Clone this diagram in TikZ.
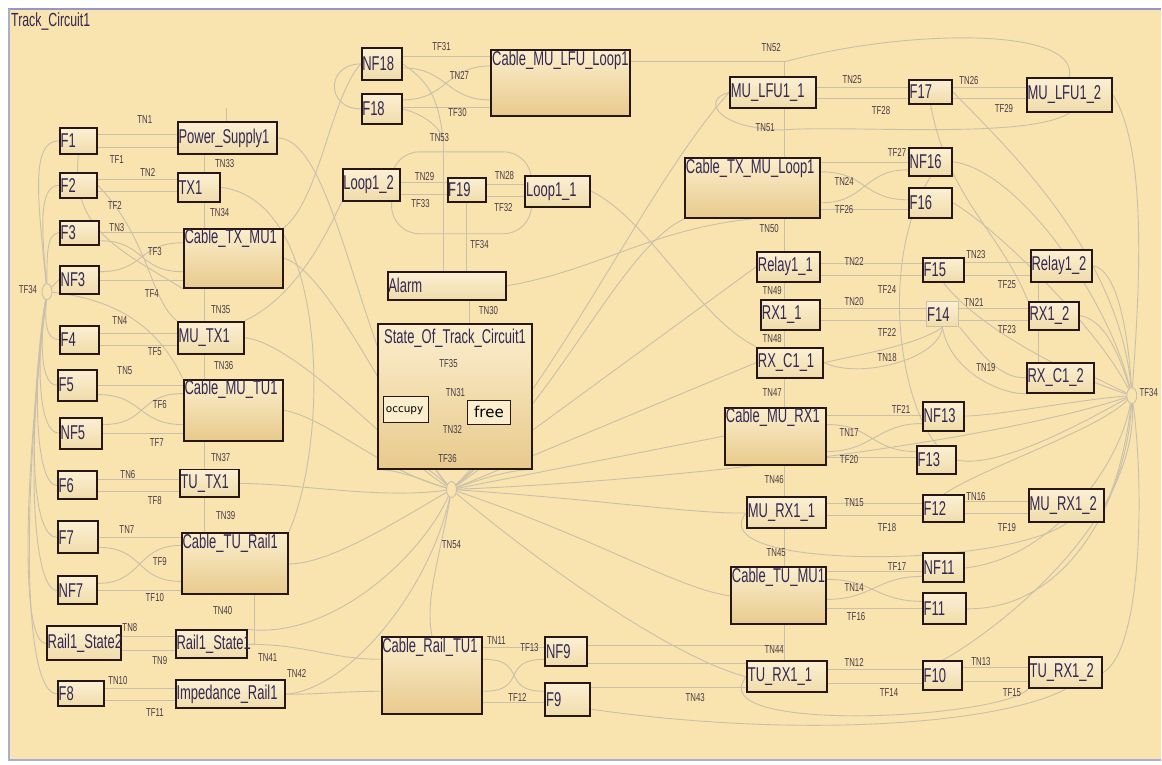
\documentclass[tikz,border=0pt]{standalone}
\usepackage{fontspec}
\setmainfont{Liberation Sans}
\newfontfamily\nar[FakeStretch=0.65]{Liberation Sans}
\newfontfamily\narl[FakeStretch=0.68]{Liberation Sans}
\newfontfamily\dvs{DejaVu Sans}
\usetikzlibrary{shapes.geometric}
\pgfdeclarelayer{bgl}
\pgfsetlayers{bgl,main}
\definecolor{bgc}{RGB}{249,227,174}
\definecolor{lnc}{RGB}{201,192,172}
\definecolor{bdc}{RGB}{38,22,22}
\definecolor{txc}{RGB}{50,40,82}
\definecolor{tlc}{RGB}{68,58,72}
\definecolor{frc}{RGB}{150,150,205}
\definecolor{fsc}{RGB}{170,175,200}
\definecolor{smtop}{RGB}{252,240,212}
\definecolor{smbot}{RGB}{240,220,170}
\definecolor{bgtop}{RGB}{251,238,205}
\definecolor{bgbot}{RGB}{232,202,140}
\tikzset{
 conn/.style={draw=lnc, line width=0.9pt},
 box/.style={rectangle, draw=bdc, line width=2pt, top color=smtop, bottom color=smbot, inner sep=0pt},
 bbox/.style={box, top color=bgtop, bottom color=bgbot},
 fbox/.style={box, draw=lnc, line width=1pt},
 btxt/.style={font=\nar\fontsize{20}{20}\selectfont, text=txc, inner sep=1.5pt},
 tlab/.style={font=\narl\fontsize{11.5}{11.5}\selectfont, text=tlc, inner sep=0pt},
 hubn/.style={ellipse, draw=lnc, line width=0.9pt, fill=bgc, minimum width=10pt, minimum height=16pt, inner sep=0pt},
}
\newcommand\sbx[7][box]{\node[#1, minimum width={(#5-#3)*1pt}, minimum height={(#6-#4)*1pt}] (#2) at ({(#3+#5)/2},{(#4+#6)/2}) {};
 \node[btxt, anchor=west] (#2t) at (#2.west) {#7};}
\newcommand\bbx[6]{\node[bbox, minimum width={(#4-#2)*1pt}, minimum height={(#5-#3)*1pt}] (#1) at ({(#2+#4)/2},{(#3+#5)/2}) {};
 \node[btxt, anchor=north west] (#1t) at (#1.north west) {#6};}
\newcommand\hy[3]{\coordinate (hyk) at (0,#3); \draw[conn] (#1.east |- hyk) -- (#2.west |- hyk);}
\newcommand\vx[3]{\coordinate (vxk) at (#3,0); \draw[conn] (#1.south -| vxk) -- (#2.north -| vxk);}
\newcommand\xc[4]{\coordinate (xa) at (0,#2); \coordinate (xb) at (0,#4); \draw[conn] (#1.east |- xa) .. controls +(45,0) and +(-45,0) .. (#3.west |- xb);}
\newcommand\tl[4]{\node[tlab] (#1) at (#2,#3) {#4};}
\begin{document}
\begin{tikzpicture}[x=1pt,y=-1pt]
\begin{pgfonlayer}{bgl}
\fill[white] (0,0) rectangle (1162,765);
\fill[bgc] (9,10) rectangle (1162,761);
\draw[frc, line width=2.5pt] (8,9) -- (1162,9);
\draw[fsc, line width=1.5pt] (9,9) -- (9,761) -- (1162,761);
\end{pgfonlayer}
\useasboundingbox (0,0) rectangle (1162,765);
\node[font=\nar\fontsize{19}{19}\selectfont, text=txc, anchor=north west, inner sep=0pt] (title) at (11,13) {Track\_Circuit1};

% ---------- left column
\sbx{F1}{60}{128}{97}{154}{F1}
\sbx{PS}{178}{122}{277}{154}{Power\_Supply1}
\sbx{F2}{60}{173}{97}{198}{F2}
\sbx{TXa}{178}{173}{220}{202}{TX1}
\sbx{F3}{60}{221}{99}{245}{F3}
\bbx{CTXMU}{184}{229}{283}{288}{Cable\_TX\_MU1}
\sbx{NF3}{60}{266}{99}{294}{NF3}
\sbx{F4}{60}{326}{99}{354}{F4}
\sbx{MUTX}{178}{322}{244}{354}{MU\_TX1}
\sbx{F5}{58}{370}{97}{401}{F5}
\bbx{CMUTU}{184}{380}{283}{441}{Cable\_MU\_TU1}
\sbx{NF5}{60}{418}{102}{449}{NF5}
\sbx{F6}{58}{472}{97}{500}{F6}
\sbx{TUTX}{180}{470}{239}{498}{TU\_TX1}
\sbx{F7}{58}{522}{98}{554}{F7}
\bbx{CTUR}{182}{534}{288}{595}{Cable\_TU\_Rail1}
\sbx{NF7}{58}{577}{97}{605}{NF7}
\sbx{RS2}{47}{627}{121}{661}{Rail1\_State2}
\sbx{RS1}{176}{631}{247}{659}{Rail1\_State1}
\sbx{F8}{58}{682}{104}{707}{F8}
\sbx{IMP}{176}{681}{285}{709}{Impedance\_Rail1}

% ---------- middle
\sbx{NF18}{362}{48}{402}{80}{NF18}
\sbx{F18}{362}{94}{402}{124}{F18}
\bbx{CMLL}{492}{50}{631}{116}{Cable\_MU\_LFU\_Loop1}
\sbx{L12}{343}{169}{400}{201}{Loop1\_2}
\sbx{F19}{448}{178}{487}{202}{F19}
\sbx{L11}{526}{176}{591}{207}{Loop1\_1}
\sbx{ALM}{388}{272}{507}{300}{Alarm}
\node[bbox, minimum width=155pt, minimum height=145pt] (ST) at (455.5,396.5) {};
\node[btxt, anchor=north] (STt) at ([yshift=-5pt]ST.north) {State\_Of\_Track\_Circuit1};
\node[box, top color=bgtop, bottom color=bgtop, line width=1.6pt, minimum width=45pt, minimum height=26pt] (OCC) at (406.5,410) {};
\node[font=\dvs\fontsize{10.5}{10.5}\selectfont, text=black, inner sep=0pt] (OCCt) at (405,411) {occupy};
\node[box, top color=bgtop, bottom color=bgtop, line width=1.6pt, minimum width=43pt, minimum height=24pt] (FREE) at (489.5,413) {};
\node[font=\dvs\fontsize{15}{15}\selectfont, text=black, inner sep=0pt] (FREEt) at (489.5,412) {free};
\bbx{CRT}{382}{638}{483}{715}{Cable\_Rail\_TU1}
\sbx{NF9}{546}{638}{588}{667}{NF9}
\sbx{F9}{546}{684}{591}{717}{F9}

% ---------- right
\sbx{MLa}{731}{77}{817}{108}{MU\_LFU1\_1}
\sbx{F17}{910}{80}{953}{104}{F17}
\sbx{MLb}{1028}{78}{1113}{112}{MU\_LFU1\_2}
\bbx{CTXML}{686}{158}{821}{218}{Cable\_TX\_MU\_Loop1}
\sbx{NF16}{910}{148}{953}{176}{NF16}
\sbx{F16}{910}{188}{953}{218}{F16}
\sbx{R11}{758}{252}{821}{282}{Relay1\_1}
\sbx{F15}{924}{258}{965}{282}{F15}
\sbx{R12}{1032}{250}{1093}{282}{Relay1\_2}
\sbx{RX11}{762}{300}{821}{330}{RX1\_1}
\sbx[fbox]{F14}{927}{302}{960}{327}{F14}
\sbx{RX12}{1030}{302}{1080}{330}{RX1\_2}
\sbx{RC11}{758}{348}{824}{378}{RX\_C1\_1}
\sbx{RC12}{1028}{363}{1095}{393}{RX\_C1\_2}
\bbx{CMRX}{726}{408}{827}{465}{Cable\_MU\_RX1}
\sbx{NF13}{924}{402}{965}{431}{NF13}
\sbx{F13}{918}{446}{957}{475}{F13}
\sbx{MRa}{748}{498}{827}{529}{MU\_RX1\_1}
\sbx{F12}{924}{496}{965}{523}{F12}
\sbx{MRb}{1030}{490}{1105}{523}{MU\_RX1\_2}
\bbx{CTUMU}{732}{568}{827}{625}{Cable\_TU\_MU1}
\sbx{NF11}{924}{554}{965}{583}{NF11}
\sbx{F11}{924}{594}{967}{625}{F11}
\sbx{TRa}{748}{662}{828}{693}{TU\_RX1\_1}
\sbx{F10}{924}{662}{963}{691}{F10}
\sbx{TRb}{1030}{658}{1103}{689}{TU\_RX1\_2}

% ---------- hubs
\node[hubn] (H34L) at (47,292) {};
\node[hubn] (H54) at (452,490) {};
\node[hubn] (H34R) at (1133,396) {};

% ---------- transition labels
\tl{lTN1}{145}{120}{TN1} \tl{lTF1}{117}{160}{TF1}
\tl{lTN2}{148}{173}{TN2} \tl{lTF2}{115}{206}{TF2}
\tl{lTN3}{117}{228}{TN3} \tl{lTF3}{155}{252}{TF3} \tl{lTF4}{152}{294}{TF4}
\tl{lTN33}{225}{164}{TN33} \tl{lTN34}{220}{213}{TN34} \tl{lTN35}{221}{310}{TN35}
\tl{lTN4}{120}{321}{TN4} \tl{lTF5}{155}{352}{TF5} \tl{lTN36}{224}{366}{TN36}
\tl{lTN5}{125}{371}{TN5} \tl{lTF6}{160}{405}{TF6} \tl{lTF7}{157}{443}{TF7}
\tl{lTN37}{221}{458}{TN37} \tl{lTN6}{128}{475}{TN6} \tl{lTF8}{155}{501}{TF8}
\tl{lTN39}{226}{516}{TN39} \tl{lTN7}{127}{530}{TN7} \tl{lTF9}{160}{562}{TF9}
\tl{lTF10}{155}{598}{TF10} \tl{lTN40}{223}{611}{TN40} \tl{lTN8}{130}{628}{TN8}
\tl{lTN9}{160}{661}{TN9} \tl{lTN41}{268}{658}{TN41} \tl{lTN42}{297}{674}{TN42}
\tl{lTN10}{118}{681}{TN10} \tl{lTF11}{155}{713}{TF11} \tl{lTF34a}{28}{290}{TF34}
\tl{lTF31}{442}{47}{TF31} \tl{lTN27}{460}{76}{TN27} \tl{lTF30}{458}{113}{TF30}
\tl{lTN53}{440}{138}{TN53} \tl{lTN29}{425}{177}{TN29} \tl{lTF33}{421}{204}{TF33}
\tl{lTN28}{505}{176}{TN28} \tl{lTF32}{504}{208}{TF32} \tl{lTF34b}{480}{245}{TF34}
\tl{lTN30}{489}{311}{TN30} \tl{lTF35}{449}{364}{TF35} \tl{lTN31}{456}{393}{TN31}
\tl{lTN32}{453}{430}{TN32} \tl{lTF36}{448}{459}{TF36} \tl{lTN54}{452}{545}{TN54}
\tl{lTN11}{497}{641}{TN11} \tl{lTF13}{530}{648}{TF13} \tl{lTF12}{518}{698}{TF12}
\tl{lTN43}{696}{698}{TN43}
\tl{lTN52}{772}{48}{TN52} \tl{lTN25}{853}{80}{TN25} \tl{lTF28}{882}{111}{TF28}
\tl{lTN26}{970}{81}{TN26} \tl{lTF29}{1005}{109}{TF29} \tl{lTN51}{766}{128}{TN51}
\tl{lTF27}{898}{153}{TF27} \tl{lTN24}{845}{182}{TN24} \tl{lTF26}{845}{210}{TF26}
\tl{lTN50}{770}{229}{TN50} \tl{lTN22}{855}{262}{TN22} \tl{lTF24}{888}{290}{TF24}
\tl{lTN23}{977}{255}{TN23} \tl{lTF25}{1008}{285}{TF25} \tl{lTN49}{773}{291}{TN49}
\tl{lTN20}{855}{302}{TN20} \tl{lTF22}{888}{333}{TF22} \tl{lTN21}{975}{303}{TN21}
\tl{lTF23}{1008}{330}{TF23} \tl{lTN48}{773}{339}{TN48} \tl{lTN18}{888}{358}{TN18}
\tl{lTN19}{987}{368}{TN19} \tl{lTN47}{773}{393}{TN47} \tl{lTF21}{902}{410}{TF21}
\tl{lTN17}{850}{433}{TN17} \tl{lTF20}{850}{460}{TF20} \tl{lTN46}{775}{480}{TN46}
\tl{lTF34c}{1150}{393}{TF34}
\tl{lTN15}{855}{503}{TN15} \tl{lTF18}{888}{528}{TF18} \tl{lTN16}{977}{497}{TN16}
\tl{lTF19}{1008}{528}{TF19} \tl{lTN45}{777}{553}{TN45} \tl{lTF17}{898}{567}{TF17}
\tl{lTN14}{855}{588}{TN14} \tl{lTF16}{857}{617}{TF16} \tl{lTN44}{775}{650}{TN44}
\tl{lTN12}{855}{663}{TN12} \tl{lTF14}{890}{693}{TF14} \tl{lTN13}{982}{662}{TN13}
\tl{lTF15}{1013}{693}{TF15}

% ---------- connectors
\begin{pgfonlayer}{bgl}
% left pairs
\hy{F1}{PS}{135} \hy{F1}{PS}{148}
\hy{F2}{TXa}{180} \hy{F2}{TXa}{192}
\hy{F3}{CTXMU}{233} \hy{NF3}{CTXMU}{281}
\xc{F3}{241}{CTXMU}{272} \xc{NF3}{272}{CTXMU}{243}
\hy{F4}{MUTX}{334} \hy{F4}{MUTX}{346}
\hy{F5}{CMUTU}{386} \hy{NF5}{CMUTU}{434}
\xc{F5}{395}{CMUTU}{425} \xc{NF5}{425}{CMUTU}{394}
\hy{F6}{TUTX}{480} \hy{F6}{TUTX}{492}
\hy{F7}{CTUR}{538} \hy{NF7}{CTUR}{591}
\xc{F7}{548}{CTUR}{582} \xc{NF7}{584}{CTUR}{546}
\hy{RS2}{RS1}{637} \hy{RS2}{RS1}{651}
\hy{F8}{IMP}{689} \hy{F8}{IMP}{701}
% left vertical chain
\coordinate (tn0) at (227,108);
\draw[conn] (tn0) -- (PS.north -| tn0);
\vx{PS}{TXa}{205} \vx{TXa}{CTXMU}{205} \vx{CTXMU}{MUTX}{205}
\vx{MUTX}{CMUTU}{205} \vx{CMUTU}{TUTX}{205} \vx{TUTX}{CTUR}{205}
\coordinate (c255) at (255,0);
\draw[conn] (CTUR.south -| c255) |- (RS1.east);
\coordinate (k660) at (0,660); \coordinate (k692) at (0,692);
\draw[conn] (RS1.east) .. controls +(60,0) and +(-50,0) .. (CRT.west |- k660);
\draw[conn] (IMP.east) .. controls +(40,0) and +(-40,0) .. (CRT.west |- k692);
% left hub
\draw[conn] (H34L) .. controls (38,200) and (30,141) .. (F1.west);
\draw[conn] (H34L) .. controls (42,230) and (38,186) .. (F2.west);
\draw[conn] (H34L) .. controls (47,260) and (46,233) .. (F3.west);
\draw[conn] (H34L) -- (NF3.west);
\draw[conn] (H34L) .. controls (45,320) and (45,340) .. (F4.west);
\draw[conn] (H34L) .. controls (40,340) and (40,386) .. (F5.west);
\draw[conn] (H34L) .. controls (36,360) and (38,434) .. (NF5.west);
\draw[conn] (H34L) .. controls (32,380) and (35,486) .. (F6.west);
\draw[conn] (H34L) .. controls (28,420) and (30,538) .. (F7.west);
\draw[conn] (H34L) .. controls (26,450) and (32,591) .. (NF7.west);
\draw[conn] (H34L) .. controls (22,500) and (22,644) .. (RS2.west);
\draw[conn] (H34L) .. controls (20,520) and (25,695) .. (F8.west);
\draw[conn] (H34L) .. controls (120,300) and (160,330) .. (CMUTU.north west);
\draw[conn] (F1.south) .. controls (70,230) and (120,250) .. (CTXMU.south west);
\draw[conn] (F2.east) .. controls (150,240) and (150,300) .. (MUTX.north west);
% middle top
\hy{NF18}{CMLL}{57} \hy{F18}{CMLL}{108}
\xc{NF18}{68}{CMLL}{100} \xc{F18}{100}{CMLL}{66}
\draw[conn] (NF18.west) .. controls +(-35,0) and +(-35,0) .. (F18.west);
\coordinate (tn53) at (444,142);
\draw[conn] (NF18.east) .. controls +(30,20) and +(-5,-40) .. (tn53);
\draw[conn] (F18.east) .. controls +(20,5) and +(-2,-15) .. (tn53);
\draw[conn] (tn53) -- (ALM.north -| tn53);
\draw[conn, rounded corners=28pt] (392,152) rectangle (532,234);
\hy{L12}{F19}{183} \hy{L12}{F19}{195}
\hy{F19}{L11}{185} \hy{F19}{L11}{197}
\vx{F19}{ALM}{467}
\vx{ALM}{ST}{470}
\draw[conn] (L12.south west) .. controls (320,250) and (290,300) .. (MUTX.north east);
\draw[conn] (NF18.west) .. controls (330,100) and (320,200) .. (CTXMU.north east);
% inside state
\hy{OCC}{FREE}{406} \hy{OCC}{FREE}{416}
\draw[conn] (450,412) ellipse [x radius=28pt, y radius=38pt];
\draw[conn] (OCC.south) .. controls +(0,40) and +(-25,-25) .. (H54);
\draw[conn] (FREE.south) .. controls +(0,40) and +(25,-25) .. (H54);
\draw[conn] (ST.south west) .. controls (400,470) and (420,480) .. (H54);
\draw[conn] (ST.south east) .. controls (510,470) and (480,480) .. (H54);
% middle bottom
\hy{CRT}{NF9}{648} \hy{CRT}{F9}{703}
\xc{CRT}{660}{F9}{692} \xc{CRT}{692}{NF9}{660}
\coordinate (k646) at (0,646); \coordinate (tn44) at (785,646);
\draw[conn] (NF9.east |- k646) -- (tn44);
\hy{NF9}{TRa}{664}
\hy{F9}{TRa}{688}
\coordinate (k710) at (0,710);
\draw[conn] (F9.east |- k710) .. controls (800,740) and (1000,725) .. (TRb.south);
% TN54 fan, left
\draw[conn] (H54) .. controls (360,380) and (340,140) .. (PS.east);
\draw[conn] (H54) .. controls (400,430) and (330,270) .. (CTXMU.east);
\draw[conn] (H54) .. controls (390,450) and (300,345) .. (MUTX.east);
\draw[conn] (H54) .. controls (380,470) and (330,420) .. (CMUTU.east);
\draw[conn] (H54) .. controls (380,500) and (300,484) .. (TUTX.east);
\draw[conn] (H54) .. controls (400,520) and (330,565) .. (CTUR.east);
\draw[conn] (H54) .. controls (420,560) and (330,640) .. (RS1.north east);
\draw[conn] (H54) .. controls (430,590) and (350,690) .. (IMP.east);
\draw[conn] (H54) .. controls (440,560) and (425,600) .. (CRT.north);
\draw[conn] (TXa.east) .. controls (330,200) and (330,440) .. (CTUR.north east);
% TN54 fan, right
\draw[conn] (H54) .. controls (560,380) and (650,180) .. (MLa.west);
\draw[conn] (H54) .. controls (560,400) and (620,250) .. (CTXML.south west);
\draw[conn] (H54) -- (R11.west);
\draw[conn] (H54) -- (RC11.west);
\draw[conn] (H54) -- (CMRX.west);
\draw[conn] (H54) .. controls (600,500) and (700,515) .. (MRa.west);
\draw[conn] (H54) .. controls (600,540) and (680,590) .. (CTUMU.west);
\draw[conn] (H54) .. controls (560,580) and (680,660) .. (TRa.west);
\draw[conn] (H54) .. controls (700,480) and (1000,440) .. (H34R);
\draw[conn] (L11.east) .. controls (650,220) and (700,320) .. (RC11.north west);
\draw[conn] (ALM.east) .. controls (600,270) and (650,230) .. (CTXML.south);
% right top
\coordinate (tn52) at (785,62);
\draw[conn] (CMLL.east |- tn52) -- (tn52) -- (MLa.north -| tn52);
\hy{MLa}{F17}{88} \hy{MLa}{F17}{99}
\hy{F17}{MLb}{88} \hy{F17}{MLb}{99}
\draw[conn] (tn52) .. controls (900,30) and (1080,25) .. (MLb.north);
\coordinate (tn51) at (785,130);
\draw[conn] (MLb.south) .. controls (1030,140) and (850,125) .. (tn51);
\draw[conn] (MLa.west) .. controls (700,100) and (720,130) .. (tn51);
% right column
\vx{MLa}{CTXML}{785} \vx{CTXML}{R11}{785} \vx{R11}{RX11}{785} \vx{RX11}{RC11}{785}
\vx{RC11}{CMRX}{785} \vx{CMRX}{MRa}{785} \vx{MRa}{CTUMU}{785} \vx{CTUMU}{TRa}{785}
\vx{R12}{RX12}{1040} \vx{RX12}{RC12}{1040}
\hy{CTXML}{NF16}{163} \hy{CTXML}{F16}{210}
\xc{CTXML}{172}{F16}{200} \xc{CTXML}{203}{NF16}{170}
\hy{R11}{F15}{264} \hy{R11}{F15}{276} \hy{F15}{R12}{263} \hy{F15}{R12}{276}
\hy{RX11}{F14}{309} \hy{RX11}{F14}{321} \hy{F14}{RX12}{309} \hy{F14}{RX12}{321}
\draw[conn] (RC11.east) .. controls (860,355) and (920,345) .. (F14.south);
\draw[conn] (RC11.east) .. controls (860,380) and (940,360) .. (F14.south);
\draw[conn] (F14.south east) .. controls (980,350) and (1000,380) .. (RC12.west);
\draw[conn] (F14.south) .. controls (950,370) and (1000,395) .. (RC12.south west);
\hy{CMRX}{NF13}{416} \hy{CMRX}{F13}{458}
\xc{CMRX}{425}{F13}{452} \xc{CMRX}{452}{NF13}{424}
\hy{MRa}{F12}{504} \hy{MRa}{F12}{516} \hy{F12}{MRb}{502} \hy{F12}{MRb}{514}
\draw[conn] (MRa.west) .. controls (700,570) and (1000,570) .. (MRb.south);
\hy{CTUMU}{NF11}{572} \hy{CTUMU}{F11}{609}
\xc{CTUMU}{580}{F11}{602} \xc{CTUMU}{600}{NF11}{577}
\hy{TRa}{F10}{670} \hy{TRa}{F10}{684} \hy{F10}{TRb}{668} \hy{F10}{TRb}{682}
\draw[conn] (TRa.west) .. controls (700,735) and (1000,720) .. (TRb.south west);
% right hub
\draw[conn] (MLb.east) .. controls (1150,150) and (1140,300) .. (H34R);
\draw[conn] (F17.east) .. controls (1000,140) and (1120,250) .. (H34R);
\draw[conn] (NF16.east) .. controls (1020,170) and (1110,300) .. (H34R);
\draw[conn] (F16.east) .. controls (1000,230) and (1100,330) .. (H34R);
\draw[conn] (F15.south) .. controls (980,330) and (1080,380) .. (H34R);
\draw[conn] (R12.east) .. controls (1120,270) and (1130,340) .. (H34R);
\draw[conn] (RX12.east) .. controls (1110,320) and (1125,370) .. (H34R);
\draw[conn] (RC12.east) -- (H34R);
\draw[conn] (NF13.east) .. controls (1000,416) and (1080,400) .. (H34R);
\draw[conn] (F13.east) .. controls (1000,470) and (1090,420) .. (H34R);
\draw[conn] (F12.north) .. controls (980,470) and (1100,430) .. (H34R);
\draw[conn] (MRb.east) .. controls (1120,480) and (1130,430) .. (H34R);
\draw[conn] (NF11.east) .. controls (1050,560) and (1120,470) .. (H34R);
\draw[conn] (F11.east) .. controls (1080,610) and (1130,480) .. (H34R);
\draw[conn] (F10.north) .. controls (1000,630) and (1140,520) .. (H34R);
\draw[conn] (TRb.east) .. controls (1145,650) and (1145,480) .. (H34R);
\draw[conn] (F17.south) .. controls (950,200) and (1000,230) .. (RX12.north west);
\draw[conn] (NF16.south) .. controls (880,260) and (900,400) .. (F13.north);
\end{pgfonlayer}
\end{tikzpicture}
\end{document}
